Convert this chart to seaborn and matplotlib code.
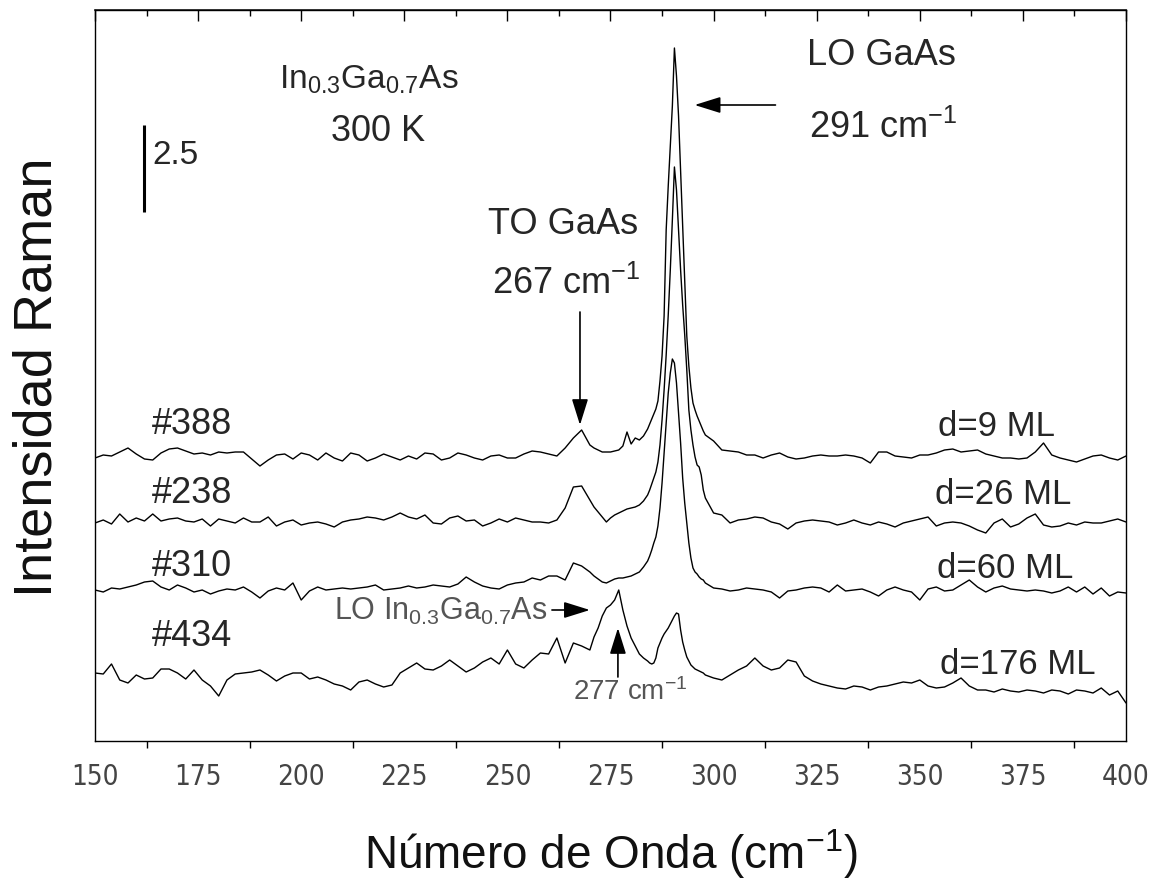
import numpy as np
import pandas as pd
import matplotlib
matplotlib.use("Agg")
import matplotlib.pyplot as plt
import seaborn as sns

# ---------------- data ----------------
# wavenumber sampling (cm^-1): coarse baseline, finer around the phonon peaks
wn_low = np.arange(150, 270, 2)
wn_mid = np.arange(270, 284, 1)
wn_peak = np.arange(284, 298.5, 0.5)
wn_high = np.arange(300, 401, 2)
wavenumber = np.concatenate([wn_low, wn_mid, wn_peak, wn_high])

samples = ["#388", "#238", "#310", "#434"]
thickness = ["d=9 ML", "d=26 ML", "d=60 ML", "d=176 ML"]
offsets = [285, 221, 153, 63]          # vertical offset of each spectrum (counts)
COUNTS_PER_AU = 34.8                   # counts per arbitrary intensity unit
scale_bar_au = 2.5

s388 = ([-2, 1, 0, 4, 8, 2, -3, -4, 3, 7, 8, 5, 2, 3, 1, 4, 3, 4, 4, -3,
         -10, -4, 1, 2, -3, 3, 1, -4, 3, -2, -5, 3, 1, -5, -2, 2, -1, -4, 0, -3,
         3, 2, -4, -2, 3, 1, -2, -4, 0, 1, -2, -2, 2, 5, 4, 2, 0, 8, 18, 26]
        + [11, 8, 6, 4, 4, 4, 5, 6, 10, 24, 12, 18, 16, 20]
        + [27, 32, 37, 42, 47, 55, 75, 100, 140, 226, 270, 310, 350, 408, 380,
           340, 285, 230, 175, 120, 90, 68, 53, 46, 40, 35, 30, 25, 21]
        + [15, 6, 5, 4, 1, 1, -2, 1, 3, -1, -3, -2, 0, 1, 0, 0, 1, 0, -2, -7,
           4, 4, 0, -1, -2, 1, 1, 3, 6, 7, 4, 5, 6, 2, 0, -2, -2, -3, -2, 4,
           13, 1, -2, -4, -6, -3, 0, 1, -2, -4, 0])

s238 = ([-3, 0, -4, 6, -2, 2, -1, 6, -1, 1, 2, -1, -2, 1, -6, 1, -1, -3, 2, -2,
         -2, 3, -6, -2, 0, -5, -3, -2, -4, -7, -2, 0, 1, 3, 2, 0, 3, 7, 3, 1,
         5, -3, -4, 2, 4, -1, 0, -6, -3, 1, -2, 2, 0, -2, -2, -3, 0, 12, 33, 34]
        + [20, 13, 8, 3, -2, 2, 5, 7, 9, 11, 12, 13, 15, 19]
        + [25, 30, 36, 42, 48, 58, 75, 100, 130, 165, 205, 250, 300, 353, 330,
           290, 250, 215, 185, 150, 110, 90, 75, 63, 55, 53, 45, 30, 22]
        + [7, 5, -3, 0, 1, 3, 2, -2, -4, -9, -3, -1, 0, -1, -2, -5, -3, 0, -3, -5,
           -2, -4, -7, -3, -1, 1, 3, -6, -3, -2, -3, -6, -10, -13, -3, 1, -7, -4,
           2, 6, -5, -7, -6, -3, -5, -2, -3, -3, -1, 1, -2])

s310 = ([-2, -4, 0, -1, 1, 3, 6, 7, 1, -2, 3, 0, -4, -2, -6, -3, -1, -2, 1, -4,
         -10, -3, 0, -2, 5, -12, -3, 1, -2, -1, 0, -1, 0, 1, 3, -2, -1, 0, 2, 0,
         1, 3, 2, 1, 4, 11, 6, 2, 0, -1, 3, 5, 6, 10, 8, 12, 12, 8, 25, 22]
        + [16, 12, 9, 6, 5, 7, 9, 10, 10, 11, 12, 14, 16, 21]
        + [27, 32, 38, 45, 51, 62, 80, 105, 135, 165, 195, 215, 229, 225, 205,
           175, 145, 110, 85, 65, 45, 30, 20, 16, 14, 11, 9, 8, 5]
        + [0, -1, -3, -2, 0, -1, -2, -4, -10, -3, -2, 0, 1, 0, -4, 3, -3, -2, -1,
           -4, -8, -2, 1, -2, -4, -12, -1, 1, -3, -2, 3, 8, 1, -4, 0, 2, -1, -2,
           -3, -2, -3, -5, -3, 1, -4, 1, -6, 0, -8, -4, -5])

s434 = ([5, 4, 14, -2, -5, 3, -1, 0, 9, 9, 5, -1, 8, -2, -8, -18, -2, 4, 5, 6,
         8, 3, -3, 2, 5, 5, -1, 1, -2, -6, -8, -12, -4, -2, -6, -9, -7, 5, 10, 15,
         9, 8, 12, 18, 12, 6, 10, 16, 20, 14, 28, 14, 10, 18, 25, 24, 40, 15, 35, 32]
        + [28, 41, 50, 62, 70, 73, 78, 88, 68, 52, 40, 32, 24, 20]
        + [17, 15, 14, 15, 20, 30, 35, 40, 44, 47, 50, 54, 58, 62, 65, 64, 48, 36,
           28, 21, 17, 13, 11, 9, 8, 7, 6, 5, 3]
        + [0, -2, 3, 8, 12, 20, 12, 8, 10, 18, 16, 2, -3, -6, -8, -10, -11, -8, -9,
           -12, -9, -8, -6, -4, -5, -2, -8, -10, -9, -5, 0, -8, -12, -12, -14, -11,
           -13, -14, -12, -13, -15, -12, -13, -16, -12, -13, -15, -10, -17, -13, -25])

spectra = [s388, s238, s310, s434]

xticks = [150, 175, 200, 225, 250, 275, 300, 325, 350, 375, 400]

frames = []
for name, off, sp in zip(samples, offsets, spectra):
    frames.append(pd.DataFrame({"wn": wavenumber,
                                "counts": np.asarray(sp, float) + off,
                                "sample": name}))
df = pd.concat(frames, ignore_index=True)

# ---------------- style ----------------
sns.set_theme(style="white")
plt.rcParams["font.family"] = ["Liberation Sans", "DejaVu Sans"]
plt.rcParams["mathtext.fontset"] = "custom"
plt.rcParams["mathtext.rm"] = "Liberation Sans"
plt.rcParams["mathtext.it"] = "Liberation Sans:italic"
plt.rcParams["mathtext.bf"] = "Liberation Sans:bold"

W, H = 1156, 882
fig = plt.figure(figsize=(W / 100, H / 100), dpi=100)
ax = fig.add_axes([95 / W, 141 / H, 1031 / W, 731 / H])

sns.lineplot(data=df, x="wn", y="counts", units="sample", estimator=None,
             color="black", lw=1.0, sort=False, legend=False, ax=ax)

ax.set_xlim(150, 400)
ax.set_ylim(0, 731)
ax.set_yticks([])
for sp in ax.spines.values():
    sp.set_color("black")
    sp.set_linewidth(1.0)

ax.set_xticks(xticks)
ax.set_xticks(np.arange(162.5, 400, 25), minor=True)
ax.tick_params(axis="x", which="major", direction="out", length=8, width=1,
               color="black", pad=8, labelsize=20, labelcolor="#444444")
ax.tick_params(axis="x", which="minor", direction="out", length=5, width=1,
               color="black", bottom=True)
for lab in ax.get_xticklabels():
    lab.set_family(["DejaVu Sans"])
    lab.set_stretch("condensed")

top = ax.secondary_xaxis("top")
top.set_xticks(xticks)
top.set_xticks(np.arange(162.5, 400, 25), minor=True)
top.tick_params(axis="x", which="major", direction="in", length=8, width=1,
                labeltop=False, color="black")
top.tick_params(axis="x", which="minor", direction="in", length=4, width=1,
                color="black")

ax.set_xlabel("Número de Onda (cm$^{-1}$)", fontsize=33, color="#111111")
ax.xaxis.set_label_coords(0.5, -0.118)
ax.set_ylabel("Intensidad Raman", fontsize=39, color="#111111")
ax.yaxis.set_label_coords(-0.032, 0.498)

# ---------------- annotations ----------------
ax.text(216.4, 661, "In$_{0.3}$Ga$_{0.7}$As", fontsize=24, ha="center", va="center")
ax.text(218.6, 610, "300 K", fontsize=26, ha="center", va="center")

# intensity scale bar
ax.plot([161.9, 161.9], [529, 529 + scale_bar_au * COUNTS_PER_AU], color="black", lw=2.2,
        solid_capstyle="butt")
ax.text(164.0, 586, f"{scale_bar_au}", fontsize=24, ha="left", va="center")

ax.text(263.4, 517, "TO GaAs", fontsize=26, ha="center", va="center")
ax.text(264.2, 457, "267 cm$^{-1}$", fontsize=26, ha="center", va="center")
ax.text(340.6, 686, "LO GaAs", fontsize=26, ha="center", va="center")
ax.text(341.1, 613, "291 cm$^{-1}$", fontsize=26, ha="center", va="center")

arrow = dict(arrowstyle="-|>,head_length=0.8,head_width=0.25", color="black",
             lw=1.2, shrinkA=0, shrinkB=0, mutation_scale=20)
ax.annotate("", xy=(267.6, 316), xytext=(267.6, 429), arrowprops=arrow)
ax.annotate("", xy=(295.4, 636), xytext=(315.0, 636), arrowprops=arrow)
ax.annotate("", xy=(270.0, 131), xytext=(260.8, 131), arrowprops=arrow)
ax.annotate("", xy=(276.8, 113), xytext=(276.8, 64), arrowprops=arrow)

for name, ypos in zip(samples, [317, 248, 175, 104]):
    ax.text(173.5, ypos, name, fontsize=26, ha="center", va="center")
for lab, (xp, ypos) in zip(thickness, [(368.7, 315), (370.2, 247), (370.7, 172), (373.8, 77)]):
    ax.text(xp, ypos, lab, fontsize=25, ha="center", va="center")

ax.text(259.8, 130, "LO In$_{0.3}$Ga$_{0.7}$As", fontsize=22, ha="right", va="center",
        color="#555555")
ax.text(279.7, 49, "277 cm$^{-1}$", fontsize=20, ha="center", va="center",
        color="#555555")

fig.savefig("out.png", dpi=100, facecolor="white")
